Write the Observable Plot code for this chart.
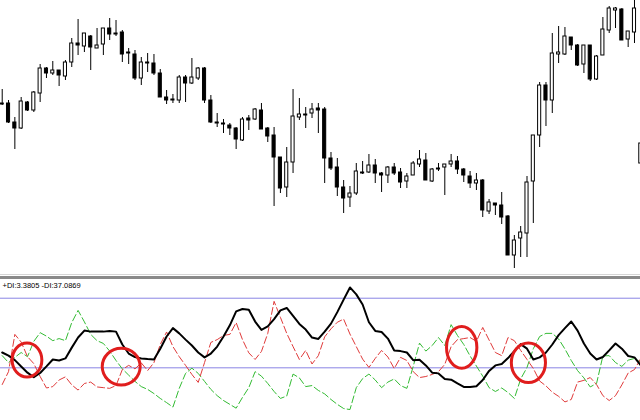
<!DOCTYPE html>
<html><head><meta charset="utf-8">
<script src="https://cdn.jsdelivr.net/npm/d3@7"></script>
<script src="https://cdn.jsdelivr.net/npm/@observablehq/plot@0.6"></script>
<style>
html,body{margin:0;padding:0;background:#fff;width:640px;height:420px;overflow:hidden;}
#sep{height:6px;box-sizing:border-box;border-top:1px solid #d6d6d6;}
#sep div{height:3px;margin-top:1px;background:#8a8a8a;}
svg{display:block;}
</style></head><body>
<div id="price"></div><div id="sep"><div></div></div><div id="ind"></div>
<script>
// ---- price bars (one per period, arbitrary price points) ----
const open = [197,197,178,172,198,190,207,232,227,230, 224,238,257,254,264,252,256,272,267,268, 248,246,222,238,237,227,203,201,200,223, 217,222,232,200,178,177,175,172,160,182, 181,190,172,165,143,113,138,183,186,187, 192,191,142,133,113,103,107,128,128,135, 127,125,133,128,119,125,136,140,119,132, 133,136,139,131,124,117,120,89,97,95, 84,45,62,67,119,165,215,200,246,246, 263,255,236,255,221,245,270,290,291,261, 268,137];
const high = [211,200,183,203,199,209,236,233,239,230, 240,262,281,267,265,272,272,282,280,270, 252,250,243,247,246,231,210,206,225,225, 242,233,233,205,187,181,177,173,183,185, 192,197,173,173,143,153,211,202,193,197, 197,193,148,142,120,114,137,139,146,141, 128,134,137,132,127,139,150,147,132,137, 136,146,144,132,129,127,121,101,97,108, 85,65,74,124,165,218,218,267,274,273, 263,256,255,255,245,283,294,293,292,269, 300,160];
const low = [195,177,151,171,189,188,198,222,225,214, 220,233,245,248,230,252,245,260,264,238, 236,220,215,228,225,203,196,197,197,198, 216,220,197,177,173,167,165,151,159,170, 180,171,158,94,107,103,127,180,172,182, 167,117,130,104,87,93,105,126,127,117, 108,117,125,112,112,125,133,120,118,129, 105,133,126,118,112,110,83,86,85,76, 45,32,43,43,77,153,174,187,237,245, 250,234,227,219,220,245,267,272,260,253, 257,135];
const close = [196,178,172,199,190,208,232,227,230,225, 238,257,255,267,253,255,272,266,266,246, 247,222,238,237,227,203,200,200,223,217, 223,232,200,178,177,176,172,161,181,180, 191,171,164,143,112,138,184,186,185,191, 190,142,132,113,102,107,129,127,135,127, 125,133,127,118,124,137,141,120,131,131, 136,139,131,125,117,120,90,98,95,83, 45,60,68,118,165,215,200,247,248,264, 255,235,255,221,244,271,292,292,260,269, 292,157];

// ---- ADX indicator ----
const adx = [24.4,23.5,22.2,20.4,18.6,17.3,18.5,20.4,22.4,22.1, 22.7,25.8,28.7,30.7,30.4,30.4,30.4,30.6,30.4,26.7, 24.1,23.1,22.7,22.5,22.4,25.5,29.0,31.4,29.9,28.1, 26.4,24.4,23.0,24.1,26.1,29.0,32.2,36.2,36.9,36.7, 33.3,30.9,31.9,34.0,36.5,37.2,34.9,32.6,31.0,28.7, 28.3,30.4,32.7,36.0,39.6,43.1,41.1,38.2,33.1,30.6, 30.3,28.4,25.0,24.8,24.4,22.2,22.3,20.7,18.6,18.4, 16.8,16.6,15.5,14.5,14.5,14.7,16.5,19.1,20.7,21.1, 22.8,24.8,26.8,25.5,22.4,23.0,24.4,26.7,29.4,31.4, 33.3,30.7,27.0,24.1,22.4,23.1,25.0,27.0,25.5,23.4, 23.0,20.7];
const plusDI = [23.5,21.5,23.0,24.4,23.2,27.6,30.1,29.1,27.8,28.4, 27.8,33.0,36.5,33.2,29.6,27.8,27.0,24.8,22.1,19.7, 17.9,16.1,14.6,13.8,12.6,11.2,10.0,8.7,14.1,18.4, 19.9,18.4,16.1,13.8,12.0,10.6,9.5,8.4,11.5,14.3, 18.9,17.6,15.5,13.2,11.2,11.9,18.2,17.1,14.6,14.9, 13.5,12.5,10.9,9.5,8.3,8.0,14.3,16.9,18.2,16.5, 14.3,15.9,16.8,14.9,14.1,20.4,27.1,24.8,26.4,28.7, 26.4,32.4,29.3,26.7,23.4,20.5,17.6,14.3,13.2,14.2, 12.9,11.2,16.8,20.1,25.5,29.0,29.9,29.9,28.3,25.4, 22.1,19.2,17.1,14.5,15.5,23.4,23.5,21.5,20.4,22.2, 22.7,21.5];
const minusDI = [15.2,18.9,29.6,27.4,23.2,21.2,17.5,14.2,14.6,16.5, 17.4,15.1,13.6,15.5,15.9,14.5,14.3,14.1,14.9,19.5, 20.7,19.7,21.4,19.2,21.5,26.7,30.3,26.1,23.2,20.7, 18.1,15.8,21.5,27.3,28.1,29.3,29.6,33.0,28.1,24.3, 22.4,24.7,29.9,39.1,34.5,29.9,26.1,22.4,25.0,21.1, 23.5,28.9,31.2,33.1,34.0,29.7,26.1,22.5,20.1,22.7, 25.0,23.1,19.8,23.0,22.1,18.9,17.2,17.5,18.1,18.9, 21.0,26.1,28.1,28.4,28.7,27.6,31.6,28.0,24.4,23.5, 28.7,27.8,25.0,22.4,19.8,16.2,14.8,13.0,11.8,10.2, 10.9,15.9,16.4,17.2,15.2,12.0,10.6,12.0,15.1,18.5, 19.5,22.7];
const levels = [20, 40];
const diLabel = "+DI:3.3805 -DI:37.0869";

// ---- red annotation circles (bar index, indicator value, radii in bars / value units) ----
const circleBar = [4.0, 18.9, 72.75, 83.3];
const circleVal = [22.1, 20.2, 25.7, 21.3];
const circleRBars = [2.35, 3.0, 2.4, 2.7];
const circleRVal = [4.9, 5.3, 6.0, 5.7];

// ---- build tables ----
const bars = open.map((o, i) => ({i, open: o, high: high[i], low: low[i], close: close[i]}));
const ind = adx.map((a, i) => ({i, adx: a, plus: plusDI[i], minus: minusDI[i]}));

const W = 640;
const xDomain = [-0.27, 100.95];
const bodyHalf = 0.245;

const pricePlot = Plot.plot({
  width: W, height: 274, margin: 0,
  style: {background: "white"},
  x: {domain: xDomain, axis: null},
  y: {domain: [26, 300], axis: null},
  marks: [
    Plot.ruleX(bars, {x: "i", y1: "low", y2: "high", stroke: "#000", strokeWidth: 1}),
    Plot.rect(bars, {
      x1: d => d.i - bodyHalf, x2: d => d.i + bodyHalf,
      y1: "open", y2: "close",
      fill: d => d.close >= d.open ? "#fff" : "#000",
      stroke: "#000", strokeWidth: 1
    })
  ]
});
document.getElementById("price").appendChild(pricePlot);

const indPlot = Plot.plot({
  width: W, height: 140, margin: 0,
  style: {background: "white"},
  x: {domain: xDomain, axis: null},
  y: {domain: [4.86, 45.09], axis: null},
  marks: [
    Plot.ruleY(levels, {stroke: "#8a84e4", strokeWidth: 1}),
    Plot.line(ind, {x: "i", y: "plus", stroke: "#33bb33", strokeWidth: 1, strokeDasharray: "7,3"}),
    Plot.line(ind, {x: "i", y: "minus", stroke: "#e03a3a", strokeWidth: 1, strokeDasharray: "7,3"}),
    Plot.line(ind, {x: "i", y: "adx", stroke: "#000", strokeWidth: 2}),
    Plot.text([diLabel], {text: d => d, frameAnchor: "top-left", dx: 2, dy: 2, fontSize: 7.5, fontFamily: "Liberation Sans, Arial, sans-serif", fill: "#000"})
  ]
});
document.getElementById("ind").appendChild(indPlot);

// annotation ellipses drawn through the plot's own scales
const xs = indPlot.scale("x"), ys = indPlot.scale("y");
const xf = d3.scaleLinear().domain(xs.domain).range(xs.range);
const yf = d3.scaleLinear().domain(ys.domain).range(ys.range);
const pxPerBar = Math.abs(xf(1) - xf(0)), pxPerVal = Math.abs(yf(1) - yf(0));
d3.select(indPlot).append("g").selectAll("ellipse")
  .data(circleBar.map((b, k) => ({b, v: circleVal[k], rb: circleRBars[k], rv: circleRVal[k]})))
  .join("ellipse")
  .attr("cx", d => xf(d.b)).attr("cy", d => yf(d.v))
  .attr("rx", d => d.rb * pxPerBar).attr("ry", d => d.rv * pxPerVal)
  .attr("fill", "none").attr("stroke", "#e01d1d").attr("stroke-width", 3);
</script>
</body></html>
